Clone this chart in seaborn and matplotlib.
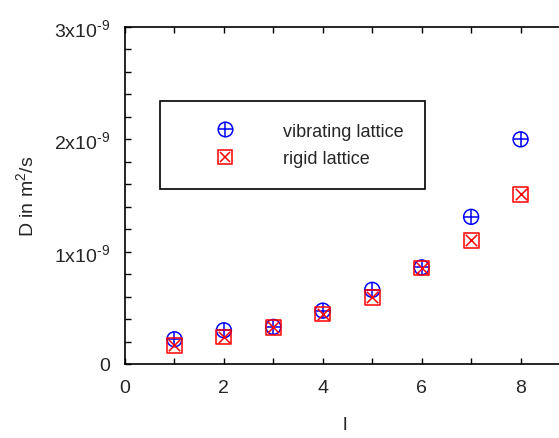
import matplotlib
matplotlib.use("Agg")
import matplotlib.pyplot as plt
import seaborn as sns
import pandas as pd
import numpy as np
from matplotlib.lines import Line2D
from matplotlib.ticker import MultipleLocator, FixedLocator, FixedFormatter

sns.set_style("ticks")
plt.rcParams['font.family'] = ['Liberation Sans', 'DejaVu Sans']
plt.rcParams['mathtext.fontset'] = 'custom'
plt.rcParams['mathtext.rm'] = 'Liberation Sans'
plt.rcParams['mathtext.default'] = 'regular'

l_values = [1, 2, 3, 4, 5, 6, 7, 8]
vibrating = [0.22e-9, 0.30e-9, 0.33e-9, 0.475e-9, 0.66e-9, 0.86e-9, 1.31e-9, 2.0e-9]
rigid = [0.165e-9, 0.24e-9, 0.325e-9, 0.445e-9, 0.595e-9, 0.855e-9, 1.10e-9, 1.51e-9]
series_names = ["vibrating lattice", "rigid lattice"]
y_ticks = [0, 1e-9, 2e-9, 3e-9]
y_tick_labels = ["0", "1x10$^{\\text{-}9}$", "2x10$^{\\text{-}9}$", "3x10$^{\\text{-}9}$"]
x_ticks = [0, 2, 4, 6, 8]

df_v = pd.DataFrame({"l": l_values, "D": vibrating})
df_r = pd.DataFrame({"l": l_values, "D": rigid})

fig = plt.figure(figsize=(5.59, 4.39), dpi=100)
ax = fig.add_axes([125/559, 1 - 365/439, 445/559, 337/439])

blue = "#0000ff"
red = "#ff0000"
ms = 115
lw = 1.1

sns.scatterplot(data=df_v, x="l", y="D", ax=ax, marker="o", s=ms,
                facecolor="none", edgecolor=blue, linewidth=lw, zorder=3)
sns.scatterplot(data=df_v, x="l", y="D", ax=ax, marker="+", s=ms,
                color=blue, linewidth=lw, zorder=3)
sns.scatterplot(data=df_r, x="l", y="D", ax=ax, marker="s", s=ms,
                facecolor="none", edgecolor=red, linewidth=lw, zorder=4)
sns.scatterplot(data=df_r, x="l", y="D", ax=ax, marker="x", s=ms*0.6,
                color=red, linewidth=lw, zorder=4)

ax.set_xlim(0, 9)
ax.set_ylim(0, 3e-9)
ax.xaxis.set_major_locator(FixedLocator(x_ticks))
ax.xaxis.set_minor_locator(MultipleLocator(1))
ax.yaxis.set_major_locator(FixedLocator(y_ticks))
ax.yaxis.set_major_formatter(FixedFormatter(y_tick_labels))
ax.yaxis.set_minor_locator(MultipleLocator(0.2e-9))

ax.tick_params(which="both", direction="in", top=True, right=True,
               length=4, width=1.0, color="black", labelsize=14)
ax.tick_params(axis="x", pad=11)
ax.tick_params(axis="y", pad=11)
for sp in ax.spines.values():
    sp.set_linewidth(1.2)
    sp.set_color("black")

ax.set_xlabel("l", fontsize=14, va="top")
ax.xaxis.set_label_coords((345 - 125) / 445, -(417 - 365) / 337)
ax.set_ylabel("D in m$^2$/s", fontsize=14, labelpad=12)

h_v = (Line2D([], [], marker="o", ls="none", mfc="none", mec=blue, ms=10.5, mew=lw),
       Line2D([], [], marker="+", ls="none", color=blue, ms=10.5, mew=lw))
h_r = (Line2D([], [], marker="s", ls="none", mfc="none", mec=red, ms=10, mew=lw),
       Line2D([], [], marker="x", ls="none", color=red, ms=7, mew=lw))
leg = ax.legend([h_v, h_r], series_names, loc="upper left",
                bbox_to_anchor=((160-125)/445, (365-102)/337),
                fontsize=13, frameon=True, fancybox=False, edgecolor="black",
                handletextpad=0.8, borderpad=1.2, borderaxespad=0,
                labelspacing=0.6, handlelength=4.8)
leg.get_frame().set_linewidth(1.2)
leg.get_frame().set_alpha(1)

fig.savefig("out.png", dpi=100)
